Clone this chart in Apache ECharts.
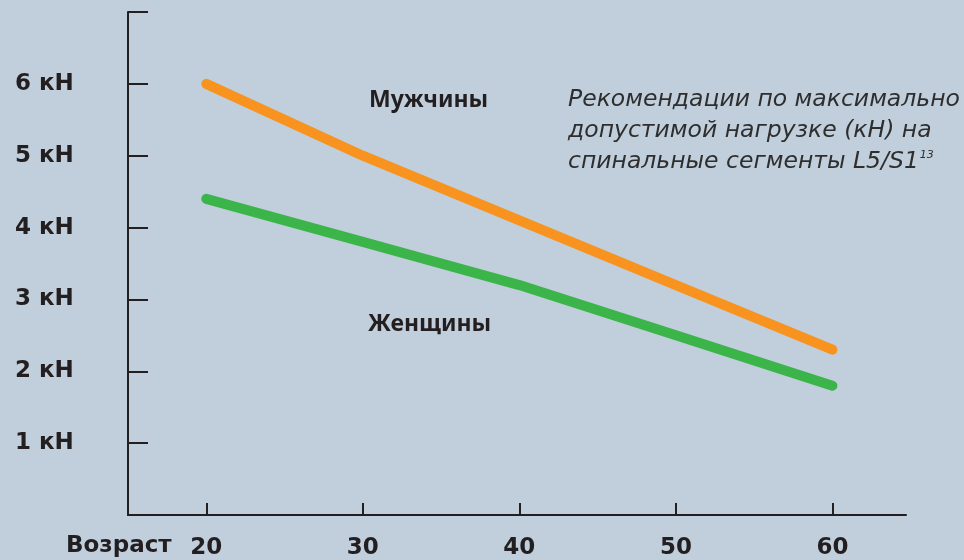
<!DOCTYPE html>
<html>
<head>
<meta charset="utf-8">
<script src="https://cdn.jsdelivr.net/npm/echarts@6/dist/echarts.min.js"></script>
<style>
html,body{margin:0;padding:0;background:#c1cfdc;}
#chart{width:964px;height:560px;}
</style>
</head>
<body>
<div id="chart"></div>
<script>
const ages = [20, 30, 40, 50, 60];
const men = [6.0, 5.0, 4.1, 3.2, 2.3];
const women = [4.4, 3.8, 3.2, 2.5, 1.8];
const yTickLabels = ['', '1 кН', '2 кН', '3 кН', '4 кН', '5 кН', '6 кН', ''];
const xAxisTitle = 'Возраст';
const menLabel = 'Мужчины';
const womenLabel = 'Женщины';
const noteLines = ['Рекомендации по максимально', 'допустимой нагрузке (кН) на', 'спинальные сегменты L5/S1'];
const noteSup = '13';

const chart = echarts.init(document.getElementById('chart'));
const axisColor = '#231f20';
const noteColor = '#2e2e2e';
const axisFont = 'DejaVu Sans';
const noteFont = 'italic 300 23.5px "DejaVu Sans"';

const ctx = document.createElement('canvas').getContext('2d');
ctx.font = noteFont;
const line3W = ctx.measureText(noteLines[2]).width;

chart.setOption({
  backgroundColor: '#c1cfdc',
  animation: false,
  grid: {left: 128, right: 58, top: 12, bottom: 44},
  xAxis: {
    type: 'value', min: 15, max: 64.7,
    axisLine: {show: true, lineStyle: {color: axisColor, width: 2}},
    axisTick: {show: true, inside: true, length: 12, lineStyle: {color: axisColor, width: 2}, customValues: ages},
    axisLabel: {customValues: ages, margin: 22, color: axisColor, fontFamily: axisFont, fontWeight: 'bold', fontSize: 23},
    splitLine: {show: false}
  },
  yAxis: {
    type: 'value', min: 0, max: 7, interval: 1,
    axisLine: {show: true, lineStyle: {color: axisColor, width: 2}},
    axisTick: {show: true, inside: true, length: 20, lineStyle: {color: axisColor, width: 2}},
    axisLabel: {
      align: 'left', margin: 113, color: axisColor, fontFamily: axisFont, fontWeight: 'bold', fontSize: 23,
      formatter: v => yTickLabels[Math.round(v)] || ''
    },
    splitLine: {show: false}
  },
  series: [
    {type: 'line', name: menLabel, data: ages.map((a, i) => [a, men[i]]), showSymbol: false,
     lineStyle: {color: '#f7931e', width: 10, cap: 'round', join: 'round'}},
    {type: 'line', name: womenLabel, data: ages.map((a, i) => [a, women[i]]), showSymbol: false,
     lineStyle: {color: '#3bb54a', width: 10, cap: 'round', join: 'round'}}
  ],
  graphic: [
    {type: 'text', x: 66, y: 546, style: {text: xAxisTitle, fill: axisColor, verticalAlign: 'middle', font: 'bold 23px "DejaVu Sans"'}},
    {type: 'text', x: 369, y: 100, style: {text: menLabel, fill: axisColor, verticalAlign: 'middle', font: 'bold 23px "Noto Sans"'}},
    {type: 'text', x: 368, y: 324, style: {text: womenLabel, fill: axisColor, verticalAlign: 'middle', font: 'bold 23px "Noto Sans"'}},
    {type: 'text', x: 568, y: 100, style: {text: noteLines[0], fill: noteColor, verticalAlign: 'middle', font: noteFont}},
    {type: 'text', x: 568, y: 131, style: {text: noteLines[1], fill: noteColor, verticalAlign: 'middle', font: noteFont}},
    {type: 'text', x: 568, y: 162, style: {text: noteLines[2], fill: noteColor, verticalAlign: 'middle', font: noteFont}},
    {type: 'text', x: 568 + line3W + 1, y: 161, style: {text: noteSup, fill: noteColor, verticalAlign: 'bottom', font: 'italic 300 11px "DejaVu Sans"'}}
  ]
});
</script>
</body>
</html>
